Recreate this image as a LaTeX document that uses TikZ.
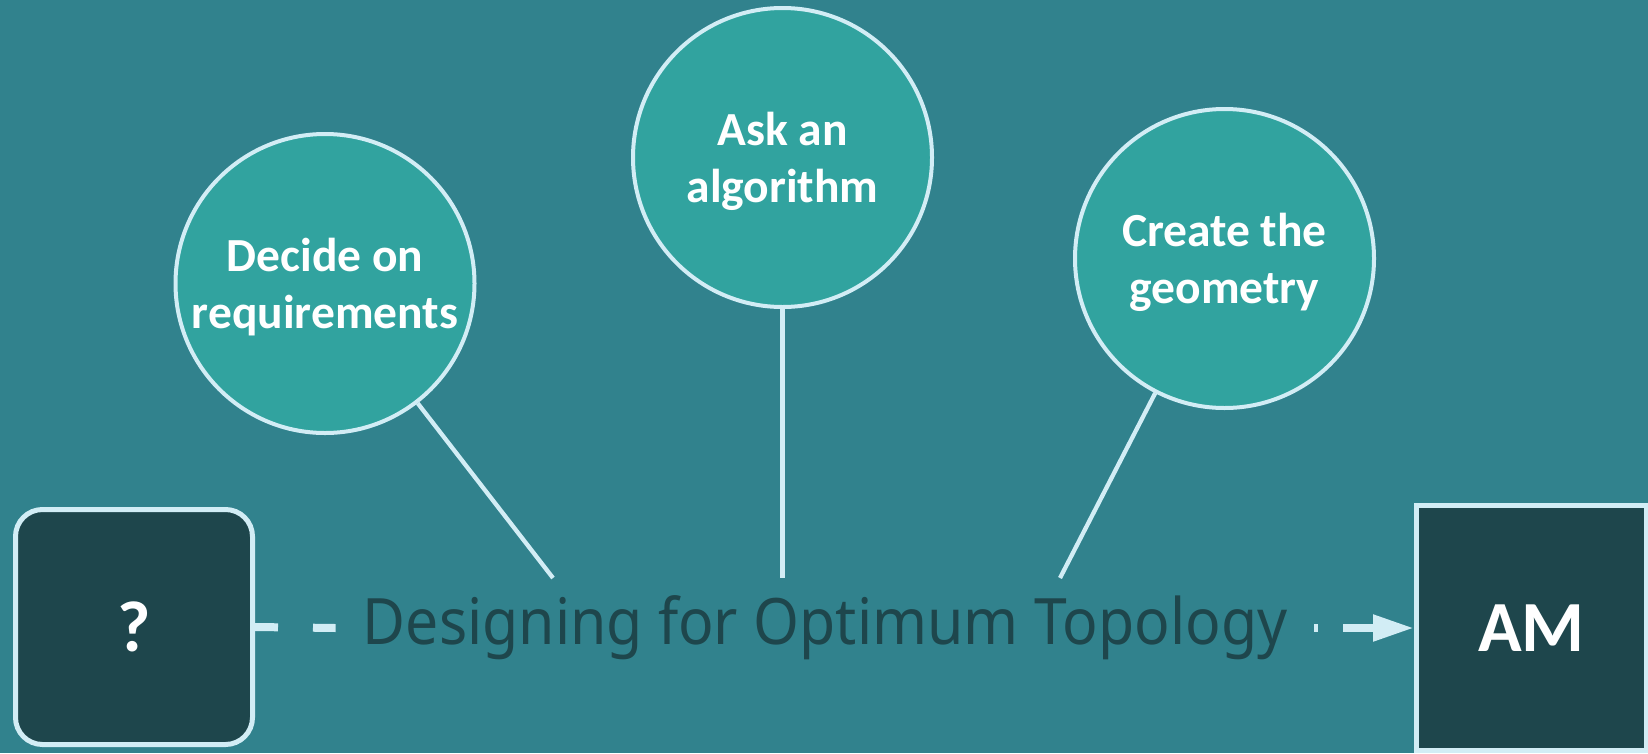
\documentclass[tikz,border=0pt]{standalone}
\usepackage{fontspec}
\setmainfont{Carlito}
\newfontfamily\titlefont[FakeStretch=0.92]{Noto Sans}
\usetikzlibrary{arrows.meta}
\definecolor{bgc}{RGB}{49,130,141}
\definecolor{circc}{RGB}{49,163,159}
\definecolor{linec}{RGB}{210,237,245}
\definecolor{darkc}{RGB}{30,70,76}
\begin{document}
\begin{tikzpicture}[x=1pt,y=-1pt,
  circ/.style={circle, fill=circc, draw=linec, line width=4pt, minimum size=299pt, inner sep=0pt},
  ctext/.style={text=white, font=\fontsize{47.5}{57}\selectfont\bfseries, inner sep=0pt},
  conn/.style={draw=linec, line width=4.3pt},
  darkbox/.style={fill=darkc, draw=linec, line width=5pt, text=white, inner sep=0pt,
     font=\fontsize{72}{86}\selectfont\bfseries},
  titlestyle/.style={text=darkc, font=\titlefont\fontsize{64}{77}\selectfont,
     text height=46pt, text depth=14pt, inner xsep=27pt, inner ysep=0pt},
  flow/.style={draw=linec, line width=8pt}
]
\useasboundingbox (0,0) rectangle (1648,753);
\fill[bgc] (0,0) rectangle (1648,753);

% circles
\node[circ] (c1) at (325,283.5) {};
\node[circ] (c2) at (782.5,157.5) {};
\node[circ] (c3) at (1224.5,258.5) {};
\node[ctext, yshift=-5pt] (t1) at (c1.center) {\begin{tabular}{@{}c@{}}Decide on\\requirements\end{tabular}};
\node[ctext, yshift=-5pt] (t2) at (c2.center) {\begin{tabular}{@{}c@{}}Ask an\\algorithm\end{tabular}};
\node[ctext, yshift=-5pt] (t3) at (c3.center) {\begin{tabular}{@{}c@{}}Create the\\geometry\end{tabular}};

% boxes
\node[darkbox, rounded corners=27pt, minimum width=237pt, minimum height=235pt] (q) at (134,627) {?};
\node[darkbox, minimum width=230pt, minimum height=245pt] (am) at (1531.5,628) {AM};

% title
\node[titlestyle] (title) at (825,628) {Designing for Optimum Topology};

% connectors from circles
\coordinate (e1) at (553,578);
\coordinate (e2) at (782.5,578);
\coordinate (e3) at (1060,578);
\draw[conn] (c1) -- (e1);
\draw[conn] (c2) -- (e2);
\draw[conn] (c3) -- (e3);

% flow
\draw[flow, dash pattern=on 23pt off 35pt on 60pt] (q.east) -- (title.west);
\draw[flow, dash pattern=on 4pt off 25pt on 200pt, -{Triangle[length=41pt,width=25pt]}] (title.east) -- (am.west);
\end{tikzpicture}
\end{document}
